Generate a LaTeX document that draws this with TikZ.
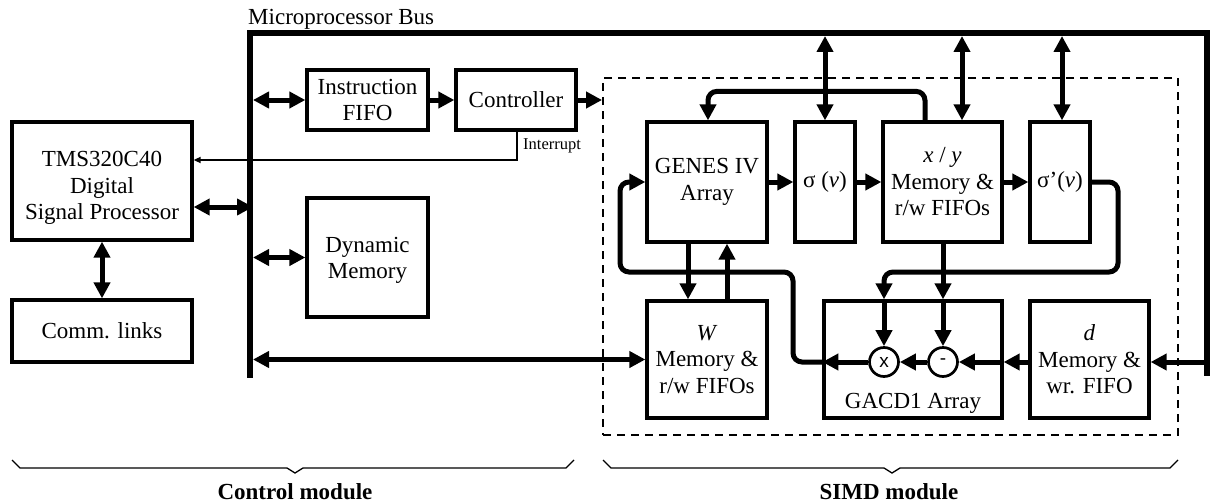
\documentclass[tikz,border=0pt]{standalone}
\usepackage{fontspec}
\setmainfont{Liberation Serif}
\setsansfont{Liberation Sans}
\usetikzlibrary{arrows.meta}
\begin{document}
\begin{tikzpicture}[x=1pt,y=-1pt,
  font=\fontsize{23}{26.5}\selectfont,
  box/.style={draw, line width=3.3pt, inner sep=0pt, align=center},
  fwd/.style={line width=5pt, -{Triangle[length=16pt,width=16pt]}},
  both/.style={line width=5pt, {Triangle[length=16pt,width=16pt]}-{Triangle[length=16pt,width=16pt]}},
  bus/.style={line width=6pt, line cap=rect},
  op/.style={draw, circle, line width=2.7pt, minimum size=29pt, inner sep=0pt, fill=white, font=\sffamily\fontsize{19}{19}\selectfont},
  brace/.style={line width=1.3pt},
  modlabel/.style={font=\bfseries\fontsize{23}{26}\selectfont}
]
\useasboundingbox (0,0) rectangle (1214,503);

% SIMD dashed region
\node[draw, line width=1.9pt, dash pattern=on 8pt off 6pt, minimum width=575pt, minimum height=357pt, inner sep=0pt] (simd) at (890.5,256.5) {};

% bus
\draw[bus] (250,375) -- (250,33) -- (1207,33) -- (1207,373);
\coordinate (bl) at (253,0);
\coordinate (bt) at (0,36);
\coordinate (br) at (1207,0);
\node[anchor=base west, inner sep=0pt] (buslbl) at (248,25) {Microprocessor Bus};

% control module boxes
\node[box, minimum width=180pt, minimum height=118pt, label={[align=center, yshift=-7pt]center:{TMS320C40\\Digital\\Signal Processor}}] (tms) at (102,181) {};
\node[box, minimum width=180pt, minimum height=62pt] (comm) at (102,331) {Comm. links};
\node[box, minimum width=121pt, minimum height=60pt] (ififo) at (367.5,100) {Instruction\\FIFO};
\node[box, minimum width=120pt, minimum height=60pt] (ctrl) at (516,100) {Controller};
\node[box, minimum width=121pt, minimum height=119pt, label={[align=center, yshift=-3pt]center:{Dynamic\\Memory}}] (dyn) at (367.5,257.5) {};

% SIMD module boxes
\node[box, minimum width=120pt, minimum height=120pt] (genes) at (707,182) {GENES IV\\Array};
\node[box, minimum width=60pt, minimum height=120pt] (sig) at (825,182) {σ (\textit{v})};
\node[box, minimum width=119pt, minimum height=120pt] (xy) at (942.5,182) {\textit{x} / \textit{y}\\Memory \&\\r/w FIFOs};
\node[box, minimum width=60pt, minimum height=120pt] (sigp) at (1060,182) {σ’(\textit{v})};
\node[box, minimum width=120pt, minimum height=117pt] (wmem) at (707,359.5) {\textit{W}\\Memory \&\\r/w FIFOs};
\node[box, minimum width=178pt, minimum height=117pt, label={[anchor=base, yshift=11pt, inner sep=0pt]south:GACD1 Array}] (gacd) at (913,359.5) {};
\node[box, minimum width=119pt, minimum height=117pt] (dmem) at (1089.5,359.5) {\textit{d}\\Memory \&\\wr. FIFO};
\node[op] (mul) at (884,362) {x};
\node[op] (sub) at (943,362) {-};

% control module connectors
\coordinate (tmsb) at ([yshift=-26pt]tms.east);
\draw[both] (tms.south) -- (comm.north);
\draw[both] (tmsb) -- (bl |- tmsb);
\draw[both] (bl |- ififo.west) -- (ififo.west);
\draw[both] (bl |- dyn.west) -- (dyn.west);
\draw[both] (bl |- wmem.west) -- (wmem.west);
\draw[fwd] (ififo.east) -- (ctrl.west);
\draw[fwd] (ctrl.east) -- (ctrl.east -| simd.west);
\coordinate (ints) at ([xshift=1pt]ctrl.south);
\coordinate (inte) at ([yshift=21pt]tms.east);
\draw[line width=1.6pt, -{Triangle[length=7pt,width=6pt]}] (ints) |- (inte);
\node[anchor=west, inner sep=0pt, font=\fontsize{16.5}{18}\selectfont] (intlbl) at (523,146) {Interrupt};

% bus to SIMD
\coordinate (xyt) at ([xshift=19.5pt]xy.north);
\coordinate (spt) at ([xshift=2pt]sigp.north);
\draw[both] (sig.north |- bt) -- (sig.north);
\draw[both] (xyt |- bt) -- (xyt);
\draw[both] (spt |- bt) -- (spt);
\draw[fwd] (br |- mul) -- (dmem.east |- mul);

% SIMD data path
\draw[fwd] (genes.east) -- (sig.west);
\draw[fwd] (sig.east) -- (xy.west);
\draw[fwd] (xy.east) -- (sigp.west);
\coordinate (fbs) at ([xshift=-17.5pt]xy.north);
\coordinate (fbm) at ([xshift=-17.5pt,yshift=29pt]xy.north);
\coordinate (fbe) at ([xshift=1pt]genes.north);
\draw[fwd, rounded corners=9pt] (fbs) -- (fbm) -| (fbe);
\coordinate (gwa) at ([xshift=-19pt]genes.south);
\coordinate (gwb) at ([xshift=-19pt]wmem.north);
\coordinate (wga) at ([xshift=20pt]wmem.north);
\coordinate (wgb) at ([xshift=20pt]genes.south);
\draw[fwd] (gwa) -- (gwb);
\draw[fwd] (wga) -- (wgb);

\coordinate (ra) at (1118,272);
\draw[fwd, rounded corners=9pt] (sigp.east) -| (ra) -| (mul |- gacd.north);
\draw[fwd] (mul |- gacd.north) -- (mul.north);
\draw[fwd] (sub |- xy.south) -- (sub |- gacd.north);
\draw[fwd] (sub |- gacd.north) -- (sub.north);

\draw[fwd] (dmem.west |- mul) -- (gacd.east |- mul);
\draw[fwd] (gacd.east |- sub) -- (sub.east);
\draw[fwd] (sub.west) -- (mul.east);
\draw[fwd] (mul.west) -- (gacd.west |- mul);
\coordinate (la) at (793,272);
\coordinate (lb) at (620,272);
\draw[fwd, rounded corners=9pt] (gacd.west |- mul) -| (la) -- (lb) |- (genes.west);

% braces
\draw[brace] (12,460) -- (20,468) -- (287,468) -- (295,473) -- (303,468) -- (566,468) -- (574,460);
\draw[brace] (603,460) -- (611,468) -- (884,468) -- (892,473) -- (900,468) -- (1170,468) -- (1178,460);
\node[modlabel] (ctrlmod) at (295,492) {Control module};
\node[modlabel] (simdmod) at (889,492) {SIMD module};
\end{tikzpicture}
\end{document}
